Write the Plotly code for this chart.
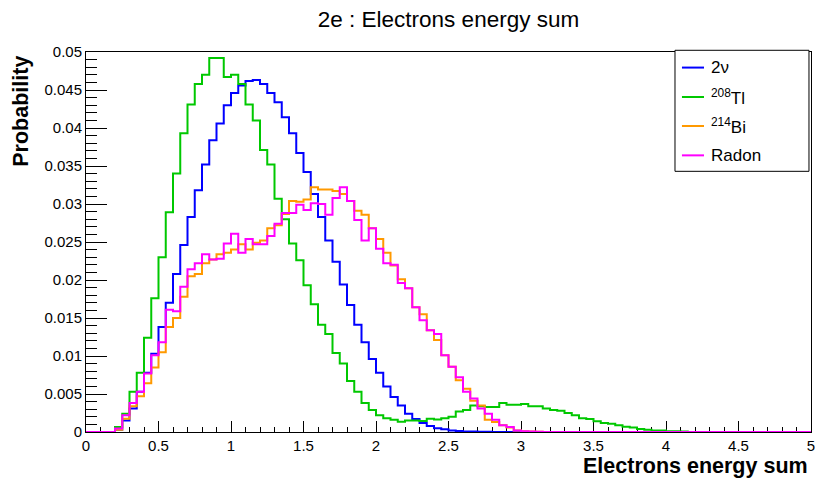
import numpy as np
import plotly.graph_objects as go

# Bin definition: 100 bins over [0, 5]
n_bins = 100
x_min, x_max = 0.0, 5.0

# Values in units of 1e-3 (probability), one per bin
two_nu = [0, 0, 0, 0, 0.3, 1.5, 3.1, 5.3, 7.8, 10.3,
          13.8, 17.0, 20.8, 24.6, 28.3, 31.8, 35.2, 38.4, 40.6, 43.0,
          44.6, 45.6, 46.2, 46.3, 45.8, 44.6, 43.4, 41.4, 39.3, 36.7,
          34.2, 31.3, 28.3, 25.2, 22.4, 19.4, 16.7, 14.1, 11.8, 9.6,
          7.8, 6.0, 4.6, 3.5, 2.4, 1.7, 1.2, 0.8, 0.5, 0.35,
          0.2, 0.12, 0.08, 0.05, 0.03, 0.02, 0, 0, 0, 0,
          0, 0, 0, 0, 0, 0, 0, 0, 0, 0,
          0, 0, 0, 0, 0, 0, 0, 0, 0, 0,
          0, 0, 0, 0, 0, 0, 0, 0, 0, 0,
          0, 0, 0, 0, 0, 0, 0, 0, 0, 0]

tl208 = [0, 0, 0, 0, 0.66, 2.4, 5.3, 7.8, 12.4, 17.6,
         23.0, 28.9, 34.0, 39.3, 43.1, 45.8, 47.0, 49.2, 49.2, 46.7,
         47.0, 45.8, 43.1, 41.0, 37.1, 35.2, 30.7, 28.0, 24.8, 22.6,
         19.3, 16.8, 14.1, 12.9, 10.4, 9.0, 6.7, 5.3, 3.8, 2.9,
         2.2, 1.8, 1.6, 1.35, 1.5, 1.5, 1.45, 1.75, 1.65, 1.8,
         2.0, 2.7, 2.9, 3.5, 3.4, 3.3, 3.3, 3.8, 3.6, 3.6,
         3.7, 3.4, 3.4, 3.1, 2.9, 2.8, 2.5, 2.2, 1.8, 1.7,
         1.4, 1.2, 1.1, 0.9, 0.7, 0.6, 0.4, 0.3, 0.2, 0.2,
         0.1, 0.1, 0.05, 0, 0, 0, 0, 0, 0, 0,
         0, 0, 0, 0, 0, 0, 0, 0, 0, 0]

bi214 = [0, 0, 0, 0, 0.3, 1.75, 3.4, 4.7, 6.4, 8.5,
         10.5, 13.8, 15.0, 17.8, 20.5, 20.8, 22.2, 22.7, 23.4, 23.6,
         24.0, 24.7, 24.0, 24.9, 25.2, 26.8, 27.2, 28.7, 30.4, 30.3,
         30.6, 32.2, 31.9, 31.9, 31.7, 31.3, 30.4, 29.1, 28.6, 26.8,
         25.4, 23.6, 21.9, 20.1, 18.9, 16.4, 15.5, 13.4, 12.1, 10.1,
         8.6, 6.8, 5.7, 4.1, 3.5, 1.6, 1.3, 0.9, 0.6, 0.2,
         0.1, 0.05, 0.03, 0, 0, 0, 0, 0, 0, 0,
         0, 0, 0, 0, 0, 0, 0, 0, 0, 0,
         0, 0, 0, 0, 0, 0, 0, 0, 0, 0,
         0, 0, 0, 0, 0, 0, 0, 0, 0, 0]

radon = [0, 0, 0, 0, 0.45, 2.2, 3.8, 5.3, 7.7, 10.1,
         11.8, 16.1, 15.9, 19.1, 21.4, 22.2, 23.4, 22.7, 22.8, 24.8,
         26.1, 23.6, 25.4, 24.7, 24.7, 25.8, 27.4, 28.8, 28.8, 29.9,
         29.2, 30.1, 30.0, 28.6, 30.8, 32.2, 30.4, 27.9, 25.2, 26.8,
         24.1, 22.2, 22.0, 19.6, 18.9, 16.4, 14.7, 13.4, 12.9, 10.1,
         8.6, 7.2, 5.3, 4.4, 3.1, 2.4, 1.6, 0.9, 0.65, 0.2,
         0.1, 0.05, 0.03, 0, 0, 0, 0, 0, 0, 0,
         0, 0, 0, 0, 0, 0, 0, 0, 0, 0,
         0, 0, 0, 0, 0, 0, 0, 0, 0, 0,
         0, 0, 0, 0, 0, 0, 0, 0, 0, 0]

series_names = ["2ν", "<sup>208</sup>Tl", "<sup>214</sup>Bi", "Radon"]
series_values = [two_nu, tl208, bi214, radon]
series_colors = ["#0000ff", "#00c800", "#ff9900", "#ff00ff"]

title_text = "2e : Electrons energy sum"
x_title = "Electrons energy sum"
y_title = "Probability"

edges = np.linspace(x_min, x_max, n_bins + 1)

fig = go.Figure()
for name, vals, col in zip(series_names, series_values, series_colors):
    y = np.array(vals) * 1e-3
    y = np.append(y, y[-1])
    fig.add_trace(go.Scatter(x=edges, y=y, mode="lines", line_shape="hv",
                             line=dict(color=col, width=2), name=name,
                             showlegend=False, hoverinfo="skip"))

FONT = "Liberation Sans, Arial, Helvetica, sans-serif"

fig.update_layout(
    width=815, height=479,
    margin=dict(l=86, r=4, t=52, b=47, autoexpand=False),
    paper_bgcolor="white", plot_bgcolor="white",
    font=dict(family=FONT, color="black", size=15),
    title=dict(text=title_text, x=0.5, xref="paper", y=1 - 19 / 479,
               yanchor="middle", xanchor="center",
               font=dict(size=22.5, family=FONT, color="black")),
)

fig.update_xaxes(range=[x_min, x_max], showgrid=False, zeroline=False,
                 showline=True, linecolor="black", linewidth=1, mirror=True,
                 ticks="inside", ticklen=11, tickwidth=1, tickcolor="black",
                 dtick=0.5, tick0=0, ticklabeloverflow="allow",
                 minor=dict(ticks="inside", ticklen=5.5, dtick=0.1,
                            tickcolor="black", tickwidth=1, showgrid=False),
                 tickfont=dict(size=15), layer="below traces")
fig.update_yaxes(range=[0, 0.05], showgrid=False, zeroline=False,
                 showline=True, linecolor="black", linewidth=1, mirror=True,
                 ticks="inside", ticklen=21, tickwidth=1, tickcolor="black",
                 dtick=0.005, tick0=0, ticklabeloverflow="allow",
                 minor=dict(ticks="inside", ticklen=11, dtick=0.001,
                            tickcolor="black", tickwidth=1, showgrid=False),
                 tickfont=dict(size=15), layer="below traces")

# Axis titles (ROOT style: right/top aligned)
fig.add_annotation(text="<b>" + x_title + "</b>", xref="paper", yref="paper",
                   x=0.9986, y=-0.0903, xanchor="right", yanchor="middle",
                   showarrow=False, font=dict(size=21.5, family=FONT))
fig.add_annotation(text="<b>" + y_title + "</b>", xref="paper", yref="paper",
                   x=-0.0897, y=0.9966, xanchor="center", yanchor="top",
                   textangle=-90, showarrow=False,
                   font=dict(size=21.5, family=FONT))

# Legend box (ROOT TLegend style)
fig.add_shape(type="rect", xref="paper", yref="paper",
              x0=0.8124, x1=0.9972, y0=0.686, y1=1.0045,
              line=dict(color="black", width=1), fillcolor="white")
leg_y = [0.959, 0.8816, 0.8053, 0.728]
for name, col, yy in zip(series_names, series_colors, leg_y):
    fig.add_shape(type="line", xref="paper", yref="paper",
                  x0=0.822, x1=0.8524, y0=yy, y1=yy,
                  line=dict(color=col, width=2))
    fig.add_annotation(text=name, xref="paper", yref="paper",
                       x=0.8593, y=yy, xanchor="left", yanchor="middle",
                       showarrow=False, font=dict(size=17, family=FONT))

fig.write_html("out.html", config={"displayModeBar": False})

# Remove the default page margin so the figure sits at the window origin
with open("out.html", "r", encoding="utf-8") as f:
    html = f.read()
html = html.replace("<head>", "<head><style>html,body{margin:0;padding:0;overflow:hidden;}</style>", 1)
with open("out.html", "w", encoding="utf-8") as f:
    f.write(html)
